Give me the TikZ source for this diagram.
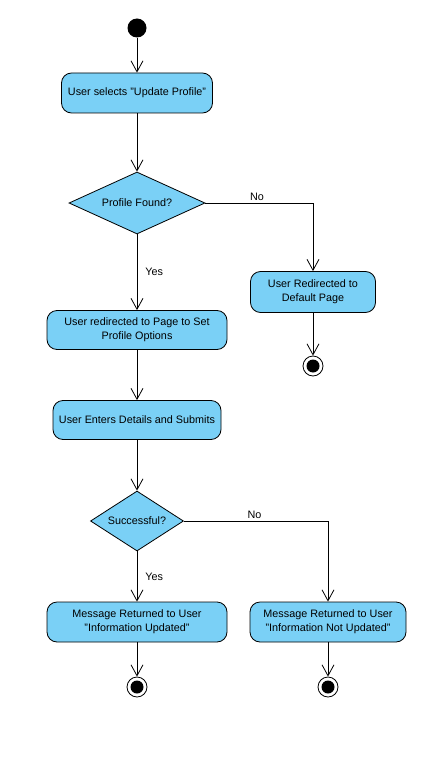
\documentclass[tikz,border=0pt]{standalone}
\usepackage{fontspec}
\setmainfont{Liberation Sans}
\usetikzlibrary{shapes.geometric,arrows.meta}
\definecolor{actfill}{RGB}{122,208,246}

\begin{document}
\begin{tikzpicture}[x=1pt, y=-1pt, line width=0.8pt,
every node/.style={font=\fontsize{10.8}{14}\selectfont, align=center},
action/.style={shape=rectangle, rounded corners=10pt, draw, fill=actfill, inner sep=0pt},
decision/.style={shape=diamond, draw, fill=actfill, inner sep=0pt, aspect=2},
startdot/.style={shape=circle, fill=black, minimum size=19pt, inner sep=0pt},
stopdot/.style={shape=circle, draw, fill=white, minimum size=20pt, inner sep=0pt,
  path picture={\fill[black] (path picture bounding box.center) circle (6.5pt);}},
flow/.style={-{Straight Barb[length=11pt, width=12pt]}},
guard/.style={font=\fontsize{10.8}{14}\selectfont, inner sep=2pt}]
\useasboundingbox (0,0) rectangle (436,762);
\node (start)[startdot] at (137,28) {};
\node (select)[action, minimum width=151pt, minimum height=40pt] at (137,93) {User selects "Update Profile"};
\node (found)[decision, minimum width=136pt, minimum height=62pt] at (137,203) {Profile Found?};
\node (default)[action, minimum width=125pt, minimum height=41pt] at (313,292) {User Redirected to\\Default Page};
\node (stopA)[stopdot] at (313,366) {};
\node (options)[action, minimum width=180pt, minimum height=39pt] at (137,330) {User redirected to Page to Set\\Profile Options};
\node (details)[action, minimum width=168pt, minimum height=39pt] at (137,420) {User Enters Details and Submits};
\node (success)[decision, minimum width=93pt, minimum height=60pt] at (137,521) {Successful?};
\node (updated)[action, minimum width=180pt, minimum height=40pt] at (137,622) {Message Returned to User\\"Information Updated"};
\node (notupdated)[action, minimum width=156pt, minimum height=40pt] at (328,622) {Message Returned to User\\"Information Not Updated"};
\node (stopB)[stopdot] at (137,687) {};
\node (stopC)[stopdot] at (328,687) {};
% connectors
\draw [flow] (start) -- (select);
\draw [flow] (select) -- (found);
\draw [flow] (found) -| node[guard, pos=0.24, above]{No} (default);
\draw [flow] (default) -- (stopA);
\draw [flow] (found) -- node[guard, right, xshift=6pt]{Yes} (options);
\draw [flow] (options) -- (details);
\draw [flow] (details) -- (success);
\draw [flow] (success) -- node[guard, right, xshift=6pt]{Yes} (updated);
\draw [flow] (success) -| node[guard, pos=0.245, above]{No} (notupdated);
\draw [flow] (updated) -- (stopB);
\draw [flow] (notupdated) -- (stopC);
\end{tikzpicture}
\end{document}
